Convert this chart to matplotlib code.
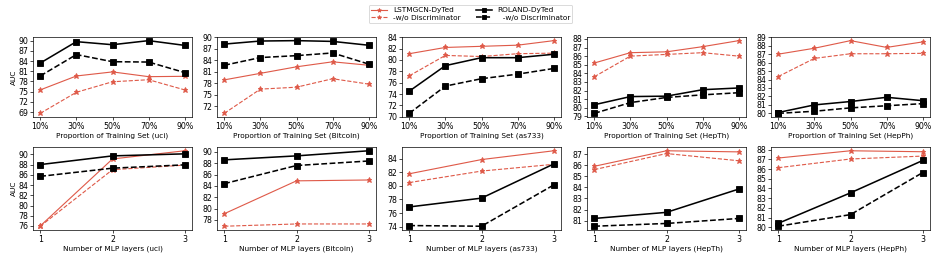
import matplotlib
matplotlib.use("Agg")
import matplotlib.pyplot as plt
from matplotlib.ticker import MultipleLocator

# 数据集
datasets = ['uci', 'Bitcoin', 'as733', 'HepTh', 'HepPh']

# 上排: 训练集比例
ratios = ['10%', '30%', '50%', '70%', '90%']
lstm_ratio = [
    [75.5, 79.6, 80.8, 79.4, 79.5],
    [78.9, 80.6, 82.3, 83.6, 82.7],
    [81.1, 82.2, 82.4, 82.6, 83.4],
    [85.2, 86.4, 86.5, 87.1, 87.8],
    [87.0, 87.7, 88.6, 87.8, 88.45],
]
lstm_ratio_wo = [
    [68.6, 74.8, 77.9, 78.5, 75.5],
    [70.2, 76.5, 77.0, 79.2, 77.8],
    [77.2, 80.8, 80.6, 81.1, 81.2],
    [83.6, 86.0, 86.2, 86.4, 86.0],
    [84.35, 86.5, 87.05, 87.05, 87.1],
]
roland_ratio = [
    [83.4, 89.7, 88.8, 90.0, 88.6],
    [88.2, 89.0, 89.1, 88.9, 87.9],
    [74.5, 79.0, 80.4, 80.4, 81.0],
    [80.35, 81.3, 81.35, 82.1, 82.3],
    [80.1, 81.0, 81.4, 81.9, 81.5],
]
roland_ratio_wo = [
    [79.6, 85.9, 83.8, 83.7, 80.6],
    [82.7, 84.7, 85.2, 85.9, 83.0],
    [70.6, 75.4, 76.7, 77.5, 78.5],
    [79.35, 80.6, 81.2, 81.5, 81.75],
    [80.0, 80.25, 80.65, 80.9, 81.15],
]

# 下排: MLP 层数
layers = [1, 2, 3]
lstm_mlp = [
    [76.0, 89.1, 90.7],
    [79.1, 84.9, 85.05],
    [81.8, 83.9, 85.2],
    [85.9, 87.3, 87.2],
    [87.15, 87.9, 87.8],
]
lstm_mlp_wo = [
    [75.95, 87.0, 87.9],
    [76.9, 77.3, 77.3],
    [80.5, 82.2, 83.2],
    [85.6, 87.05, 86.4],
    [86.15, 87.05, 87.35],
]
roland_mlp = [
    [88.0, 89.7, 90.1],
    [88.6, 89.3, 90.2],
    [76.9, 78.2, 83.25],
    [81.2, 81.75, 83.85],
    [80.4, 83.55, 86.9],
]
roland_mlp_wo = [
    [85.7, 87.3, 87.95],
    [84.4, 87.6, 88.4],
    [74.15, 74.05, 80.15],
    [80.5, 80.75, 81.2],
    [80.1, 81.3, 85.65],
]

top_steps = [3, 3, 2, 1, 1]
bottom_steps = [2, 2, 2, 1, 1]

red = '#df5a49'
tick_fs = 9
label_fs = 8.5

fig = plt.figure(figsize=(15.056, 4.192), dpi=62.5)
W, H = 941.0, 262.0
lefts = [33, 217, 402, 587, 771]
width = 159


def draw(ax, x, a, b, c, d, step):
    ax.plot(x, a, color=red, lw=1.3, marker='*', ms=6, label='LSTMGCN-DyTed')
    ax.plot(x, b, color=red, lw=1.3, ls='--', marker='*', ms=6, label='-w/o Discriminator')
    ax.plot(x, c, color='black', lw=1.8, marker='s', ms=6.5, label='ROLAND-DyTed')
    ax.plot(x, d, color='black', lw=1.8, ls='--', marker='s', ms=6.5, label='  -w/o Discriminator')
    ax.yaxis.set_major_locator(MultipleLocator(step))
    ax.tick_params(labelsize=tick_fs, length=3.5, pad=2)


for i, name in enumerate(datasets):
    # 上排
    ax = fig.add_axes([lefts[i] / W, 1 - 117 / H, width / W, 80 / H])
    xs = list(range(len(ratios)))
    draw(ax, xs, lstm_ratio[i], lstm_ratio_wo[i], roland_ratio[i], roland_ratio_wo[i], top_steps[i])
    ax.set_xticks(xs)
    ax.set_xticklabels(ratios)
    ax.set_xlabel('Proportion of Training Set (%s)' % name, fontsize=label_fs, labelpad=2)
    if i == 0:
        ax.set_ylabel('AUC', fontsize=label_fs, labelpad=2)
        handles, labels = ax.get_legend_handles_labels()

    # 下排
    ax2 = fig.add_axes([lefts[i] / W, 1 - 230 / H, width / W, 83 / H])
    draw(ax2, layers, lstm_mlp[i], lstm_mlp_wo[i], roland_mlp[i], roland_mlp_wo[i], bottom_steps[i])
    ax2.set_xticks(layers)
    ax2.set_xlabel('Number of MLP layers (%s)' % name, fontsize=label_fs, labelpad=2)
    if i == 0:
        ax2.set_ylabel('AUC', fontsize=label_fs, labelpad=2)

fig.legend(handles, labels, loc='upper center', bbox_to_anchor=(0.5, 0.995), ncol=2,
           fontsize=label_fs, handlelength=2.2, columnspacing=2.0, borderpad=0.3,
           labelspacing=0.2, markerscale=0.8, frameon=True)

fig.savefig('out.png', dpi=62.5)
